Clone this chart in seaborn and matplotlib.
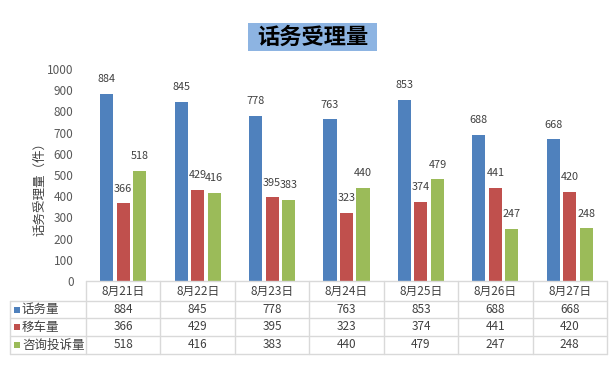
import matplotlib
matplotlib.use("Agg")
import matplotlib.pyplot as plt
import matplotlib.transforms as mtransforms
from matplotlib.lines import Line2D
from matplotlib.patches import Rectangle
import seaborn as sns
import pandas as pd

categories = ["8月21日", "8月22日", "8月23日", "8月24日", "8月25日", "8月26日", "8月27日"]
series_names = ["话务量", "移车量", "咨询投诉量"]
calls = [884, 845, 778, 763, 853, 688, 668]
moves = [366, 429, 395, 323, 374, 441, 420]
complaints = [518, 416, 383, 440, 479, 247, 248]
yticks = [0, 100, 200, 300, 400, 500, 600, 700, 800, 900, 1000]
title = "话务受理量"
ylabel = "话务受理量（件）"
colors = ["#4F81BD", "#C0504D", "#9BBB59"]

series_values = [calls, moves, complaints]
rows = []
for name, vals in zip(series_names, series_values):
    for c, v in zip(categories, vals):
        rows.append({"date": c, "series": name, "value": v})
df = pd.DataFrame(rows)

sns.set_theme(style="white")
plt.rcParams["font.family"] = ["Noto Sans CJK SC", "DejaVu Sans"]

W, H = 610, 392
fig = plt.figure(figsize=(W / 100, H / 100), dpi=100)

def fx(px):
    return px / W

def fy(py):
    return 1 - py / H

ax_left, ax_right, ax_top, ax_bottom = 86, 607, 69, 281
ax = fig.add_axes([fx(ax_left), fy(ax_bottom), fx(ax_right - ax_left), (ax_bottom - ax_top) / H])

sns.barplot(data=df, x="date", y="value", hue="series", order=categories,
            hue_order=series_names, palette=colors, width=0.666, gap=0.21,
            saturation=1, ax=ax, legend=False, edgecolor="none")

ax.set_ylim(0, 1000)
ax.set_xlim(-0.5, len(categories) - 0.5)
ax.set_yticks(yticks)
ax.set_yticklabels([str(t) for t in yticks], fontsize=8.5, color="#595959")
ax.set_xticks([])
ax.set_xlabel("")
ax.set_ylabel("")
ax.tick_params(axis="y", length=0, pad=9)
for s in ax.spines.values():
    s.set_visible(False)

txt_color = "#404040"
for cont in ax.containers:
    for bar in cont:
        h = bar.get_height()
        ax.annotate(f"{int(round(h))}", (bar.get_x() + bar.get_width() / 2, h),
                    xytext=(0, 7), textcoords="offset points", ha="center", va="bottom",
                    fontsize=7.8, color=txt_color)

# Y label
fig.text(fx(40), fy(186), ylabel, rotation=90, ha="center", va="center",
         fontsize=9, color="#404040")

# Title with box
fig.add_artist(Rectangle((fx(248), fy(51)), fx(377 - 248), (51 - 23) / H,
                         transform=fig.transFigure, facecolor="#8DB4E2", edgecolor="none"))
fig.text(fx(312.5), fy(37), title, ha="center", va="center", fontsize=16,
         fontweight="bold", color="#000000")

# Data table
line_c = "#D9D9D9"
bt = mtransforms.blended_transform_factory(ax.transData, fig.transFigure)
row_y = [281, 301, 318, 336, 354]
n = len(categories)
fig.add_artist(Line2D([fx(ax_left), fx(ax_right)], [fy(row_y[0])] * 2,
                      transform=fig.transFigure, color=line_c, lw=1))
for yy in row_y[1:]:
    fig.add_artist(Line2D([fx(10), fx(ax_right)], [fy(yy)] * 2,
                          transform=fig.transFigure, color=line_c, lw=1))
fig.add_artist(Line2D([fx(10), fx(10)], [fy(row_y[1]), fy(row_y[-1])],
                      transform=fig.transFigure, color=line_c, lw=1))
for i in range(n + 1):
    fig.add_artist(Line2D([i - 0.5, i - 0.5], [fy(row_y[0]), fy(row_y[-1])],
                          transform=bt, color=line_c, lw=1))
for i, c in enumerate(categories):
    fig.text(i, fy((row_y[0] + row_y[1]) / 2), c, transform=bt, ha="center",
             va="center", fontsize=8.5, color=txt_color)
for r, (name, vals, col) in enumerate(zip(series_names, series_values, colors)):
    yc = fy((row_y[r + 1] + row_y[r + 2]) / 2)
    fig.add_artist(Rectangle((fx(14), yc - 3 / H), fx(6), 6 / H,
                             transform=fig.transFigure, facecolor=col, edgecolor="none"))
    fig.text(fx(22), yc, name, ha="left", va="center", fontsize=9, color=txt_color)
    for i, v in enumerate(vals):
        fig.text(i, yc, str(v), transform=bt, ha="center", va="center",
                 fontsize=8.5, color=txt_color)

fig.savefig("out.png", dpi=100)
